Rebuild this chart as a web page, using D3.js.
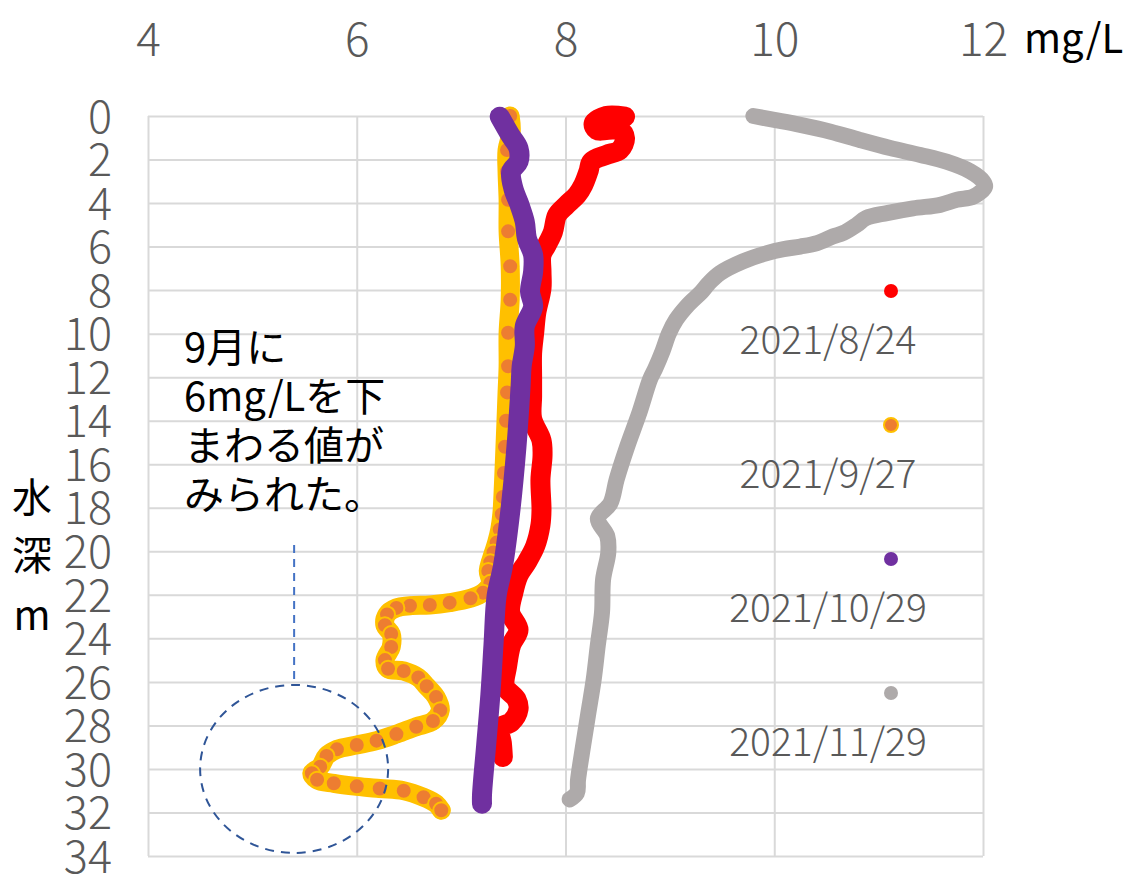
<!DOCTYPE html>
<html>
<head>
<meta charset="utf-8">
<script src="https://cdn.jsdelivr.net/npm/d3@7"></script>
<style>
  body { margin: 0; background: #fff; }
  svg { display: block; }
  .tick text { font-family: "Noto Sans CJK JP", "Open Sans", sans-serif; font-weight: 300; fill: #595959; }
</style>
</head>
<body>
<svg id="chart" width="1142" height="876"></svg>
<script>
// DO (mg/L) profiles by depth (m)
const xTicks = [4, 6, 8, 10, 12];
const yTicks = [0, 2, 4, 6, 8, 10, 12, 14, 16, 18, 20, 22, 24, 26, 28, 30, 32, 34];
const seriesNames = ["2021/8/24", "2021/9/27", "2021/10/29", "2021/11/29"];

const depthAug = [0.03, 0, 0.34, 0.64, 0.64, 1.02, 1.56, 1.79, 2.1, 2.55, 3.17, 3.63, 4.09, 4.55, 5.32, 5.93, 6.39, 7.15, 7.92, 9.05, 9.96, 10.9, 11.96, 12.9, 13.9, 14.9, 15.6, 16.7, 18.1, 18.8, 19.76, 20.5, 21.1, 21.9, 22.8, 23.6, 24.3, 25.3, 26.2, 26.8, 27.25, 27.85, 28.1, 28.8, 29.45];
const doAug = [8.57, 8.39, 8.27, 8.30, 8.52, 8.57, 8.52, 8.39, 8.25, 8.22, 8.17, 8.11, 8.01, 7.92, 7.88, 7.82, 7.77, 7.77, 7.77, 7.72, 7.70, 7.68, 7.68, 7.68, 7.68, 7.77, 7.78, 7.76, 7.77, 7.76, 7.71, 7.63, 7.55, 7.50, 7.47, 7.55, 7.48, 7.44, 7.42, 7.53, 7.55, 7.48, 7.37, 7.39, 7.40];

const depthSep = [0, 0.72, 1.56, 2.55, 3.85, 5.3, 6.9, 8.44, 9.96, 11.5, 12.7, 14.0, 15.2, 16.4, 17.5, 18.3, 19.0, 19.6, 20.05, 20.5, 20.9, 21.45, 21.9, 22.16, 22.36, 22.47, 22.5, 22.6, 22.9, 23.4, 23.8, 24.4, 25.0, 25.4, 25.5, 25.8, 26.2, 26.7, 27.3, 27.8, 28.06, 28.4, 28.7, 28.9, 29.1, 29.4, 29.9, 30.2, 30.5, 30.66, 30.8, 30.9, 31.0, 31.3, 31.6, 31.9];
const doSep = [7.47, 7.48, 7.44, 7.44, 7.45, 7.45, 7.47, 7.47, 7.45, 7.45, 7.44, 7.43, 7.42, 7.41, 7.40, 7.39, 7.37, 7.34, 7.31, 7.28, 7.26, 7.28, 7.21, 7.09, 6.89, 6.70, 6.51, 6.38, 6.29, 6.27, 6.33, 6.33, 6.27, 6.30, 6.45, 6.59, 6.67, 6.76, 6.80, 6.73, 6.57, 6.38, 6.19, 6.00, 5.81, 5.71, 5.65, 5.57, 5.62, 5.78, 6.00, 6.22, 6.45, 6.64, 6.76, 6.81];

const depthOct = [0.03, 0.87, 1.49, 2.1, 2.55, 3.32, 4.09, 4.86, 5.62, 6.39, 7.15, 8.07, 8.75, 9.66, 10.58, 11.5, 12.4, 15.2, 18.2, 20.7, 22.05, 24.3, 26.6, 28.9, 31.2, 31.6];
const doOct = [7.37, 7.47, 7.55, 7.55, 7.48, 7.50, 7.56, 7.61, 7.63, 7.69, 7.69, 7.66, 7.69, 7.61, 7.61, 7.58, 7.57, 7.53, 7.47, 7.40, 7.34, 7.31, 7.28, 7.24, 7.20, 7.20];

const depthNov = [0, 0.18, 0.41, 0.72, 1.1, 1.47, 1.79, 2.1, 2.55, 3.0, 3.24, 3.7, 3.85, 4.08, 4.24, 4.46, 4.69, 5.0, 5.38, 5.54, 5.84, 6.0, 6.12, 6.3, 6.68, 7.22, 7.7, 8.1, 8.7, 9.36, 10.0, 10.8, 11.6, 12.1, 13.6, 15.2, 16.7, 17.8, 18.5, 19.3, 20.05, 21.3, 22.8, 24.3, 25.9, 27.4, 28.9, 30.5, 31.1, 31.4];
const doNov = [9.80, 10.0, 10.25, 10.54, 10.82, 11.11, 11.40, 11.65, 11.88, 12.0, 12.02, 11.91, 11.75, 11.59, 11.33, 11.08, 10.88, 10.79, 10.66, 10.56, 10.41, 10.25, 10.09, 9.93, 9.70, 9.48, 9.37, 9.30, 9.17, 9.06, 8.99, 8.93, 8.86, 8.81, 8.71, 8.59, 8.49, 8.43, 8.31, 8.40, 8.41, 8.36, 8.35, 8.31, 8.27, 8.22, 8.17, 8.12, 8.11, 8.04];

const noteLines = ["9月に", "6mg/Lを下", "まわる値が", "みられた。"];

const margin = { top: 116, left: 148 },
    width = 835,
    height = 740;

const svg = d3.select("#chart");
const g = svg.append("g").attr("transform", `translate(${margin.left},${margin.top})`);

const x = d3.scaleLinear().domain([4, 12]).range([0, width]);
const y = d3.scaleLinear().domain([0, 34]).range([0, height]);

// gridlines
g.append("g")
    .call(d3.axisTop(x).tickValues(xTicks).tickSize(-height).tickFormat(""))
    .call(a => a.select(".domain").remove())
    .selectAll("line").attr("stroke", "#d9d9d9").attr("stroke-width", 2);
g.append("g")
    .call(d3.axisLeft(y).tickValues(yTicks).tickSize(-width).tickFormat(""))
    .call(a => a.select(".domain").remove())
    .selectAll("line").attr("stroke", "#d9d9d9").attr("stroke-width", 2);

// x axis labels on top
svg.append("g")
    .attr("transform", `translate(${margin.left},56)`)
    .call(d3.axisTop(x).tickValues(xTicks).tickSize(0).tickPadding(0))
    .call(a => a.select(".domain").remove())
    .selectAll("text").attr("font-size", 46);

// y axis labels
g.append("g")
    .call(d3.axisLeft(y).tickValues(yTicks).tickSize(0).tickPadding(36))
    .call(a => a.select(".domain").remove())
    .selectAll("text").attr("font-size", 45).attr("dy", "0.36em");

svg.append("text")
    .attr("x", 1024).attr("y", 53)
    .attr("font-family", "Noto Sans CJK JP, sans-serif")
    .attr("font-size", 40)
    .attr("fill", "#000")
    .text("mg/L");

// y title stacked vertically
svg.append("g")
    .attr("font-family", "Noto Sans CJK JP, sans-serif")
    .attr("font-size", 40)
    .attr("text-anchor", "middle")
    .selectAll("text")
    .data(["水", "深", "m"])
    .join("text")
    .attr("x", 32)
    .attr("y", (d, i) => [512, 570, 630][i])
    .text(d => d);

const series = [
    { name: seriesNames[0], depth: depthAug, val: doAug, color: "#ff0000", w: 20 },
    { name: seriesNames[1], depth: depthSep, val: doSep, color: "#ffc000", w: 19, dot: "#ed7d31" },
    { name: seriesNames[2], depth: depthOct, val: doOct, color: "#7030a0", w: 20 },
    { name: seriesNames[3], depth: depthNov, val: doNov, color: "#aeaaaa", w: 16 }
];

const line = d3.line().x(d => x(d[1])).y(d => y(d[0])).curve(d3.curveCatmullRom);

series.forEach(s => {
    const pts = s.depth.map((d, i) => [d, s.val[i]]);
    g.append("path")
        .datum(pts)
        .attr("d", line)
        .attr("fill", "none")
        .attr("stroke", s.color)
        .attr("stroke-width", s.w)
        .attr("stroke-linecap", "round")
        .attr("stroke-linejoin", "round");
    if (s.dot) {
        g.append("g").selectAll("circle")
            .data(pts)
            .join("circle")
            .attr("cx", d => x(d[1]))
            .attr("cy", d => y(d[0]))
            .attr("r", 8)
            .attr("fill", s.dot)
            .attr("stroke", s.color)
            .attr("stroke-width", 2);
    }
});

// legend
const legend = svg.append("g");
series.forEach((s, i) => {
    const ly = 291 + i * 134;
    legend.append("circle")
        .attr("cx", 891).attr("cy", ly).attr("r", 7)
        .attr("fill", s.dot || s.color)
        .attr("stroke", s.color).attr("stroke-width", s.dot ? 2 : 0);
    legend.append("text")
        .attr("x", 828).attr("y", ly + 63)
        .attr("text-anchor", "middle")
        .attr("font-family", "Noto Sans CJK JP, sans-serif")
        .attr("font-weight", 300)
        .attr("font-size", 39)
        .attr("fill", "#595959")
        .text(s.name);
});

// annotation
svg.append("g")
    .attr("font-family", "Noto Sans CJK JP, sans-serif")
    .attr("font-size", 40)
    .attr("fill", "#000")
    .selectAll("text")
    .data(noteLines)
    .join("text")
    .attr("x", 184)
    .attr("y", (d, i) => 362 + i * 49)
    .text(d => d);

const cx = x(5.4), cy = y(30);
g.append("line")
    .attr("x1", cx).attr("x2", cx)
    .attr("y1", 545 - margin.top).attr("y2", cy - 84)
    .attr("stroke", "#4472c4").attr("stroke-width", 2)
    .attr("stroke-dasharray", "8,6");
g.append("ellipse")
    .attr("cx", cx).attr("cy", cy)
    .attr("rx", 94).attr("ry", 84)
    .attr("fill", "none")
    .attr("stroke", "#2f5597").attr("stroke-width", 2)
    .attr("stroke-dasharray", "9,7");
</script>
</body>
</html>
